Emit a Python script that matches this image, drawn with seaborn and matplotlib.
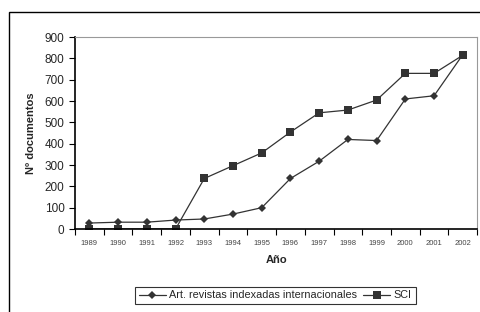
import numpy as np
import pandas as pd
import matplotlib
matplotlib.use('Agg')
import matplotlib.pyplot as plt
import seaborn as sns
from matplotlib.patches import Rectangle

years = [1989, 1990, 1991, 1992, 1993, 1994, 1995, 1996, 1997, 1998, 1999, 2000, 2001, 2002]
art = [28, 32, 32, 42, 47, 70, 100, 237, 318, 420, 415, 610, 625, 818]
sci = [0, 0, 0, 0, 237, 297, 357, 455, 545, 558, 605, 730, 730, 815]
series_names = ['Art. revistas indexadas internacionales', 'SCI']

pos = list(range(len(years)))
df = pd.concat([
    pd.DataFrame({'pos': pos, 'valor': art, 'serie': series_names[0]}),
    pd.DataFrame({'pos': pos, 'valor': sci, 'serie': series_names[1]}),
])

sns.set_style('white')
plt.rcParams['font.family'] = ['Liberation Sans', 'DejaVu Sans']

fig = plt.figure(figsize=(4.81, 3.12), dpi=100)
ax = fig.add_axes([0.156, 0.266, 0.836, 0.615])

sns.lineplot(data=df, x='pos', y='valor', hue='serie', style='serie',
             markers={series_names[0]: 'D', series_names[1]: 's'},
             dashes=False, palette=['#333333', '#333333'],
             markersize=5, linewidth=0.9, markeredgewidth=0, ax=ax, legend=False)
# diamond a bit smaller than the square
for ln, ms in zip(ax.lines, [4, 5.4]):
    ln.set_markersize(ms)

ax.set_xlim(-0.5, len(years) - 0.5)
ax.set_ylim(0, 900)
ax.set_yticks(range(0, 901, 100))
ax.set_xticks(pos)
ax.set_xticklabels(years, fontsize=5.5, color='#444444')
ax.set_xticks(np.arange(-0.5, len(years)), minor=True)
ax.tick_params(axis='x', which='major', length=0, pad=8)
ax.tick_params(axis='x', which='minor', length=4, width=0.8, direction='out', color='black', bottom=True)
ax.tick_params(axis='y', length=4, width=0.8, direction='out', labelsize=8.5, left=True, color='black')

for side in ['top', 'right']:
    ax.spines[side].set_color('#999999')
    ax.spines[side].set_linewidth(0.8)
for side in ['left', 'bottom']:
    ax.spines[side].set_color('black')
    ax.spines[side].set_linewidth(1.2)

ax.set_xlabel('Año', fontsize=8, fontweight='bold', labelpad=6)
ax.set_ylabel('Nº documentos', fontsize=8, fontweight='bold', labelpad=6)

handles = [
    plt.Line2D([], [], color='#333333', marker='D', markersize=4, linewidth=0.9, markeredgewidth=0),
    plt.Line2D([], [], color='#333333', marker='s', markersize=5.4, linewidth=0.9, markeredgewidth=0),
]
leg = fig.legend(handles, series_names, loc='center', bbox_to_anchor=(0.572, 0.053),
                 ncol=2, fontsize=7.8, frameon=True, fancybox=False, edgecolor='black',
                 handlelength=2.5, columnspacing=0.6, handletextpad=0.3, borderpad=0.35)
leg.get_frame().set_linewidth(0.8)

fig.patches.append(Rectangle((9 / 481, -0.1), 1.2, 1 - 12 / 312 + 0.1, transform=fig.transFigure,
                             fill=False, edgecolor='black', linewidth=1.0, clip_on=False))

fig.savefig('out.png', dpi=100)
